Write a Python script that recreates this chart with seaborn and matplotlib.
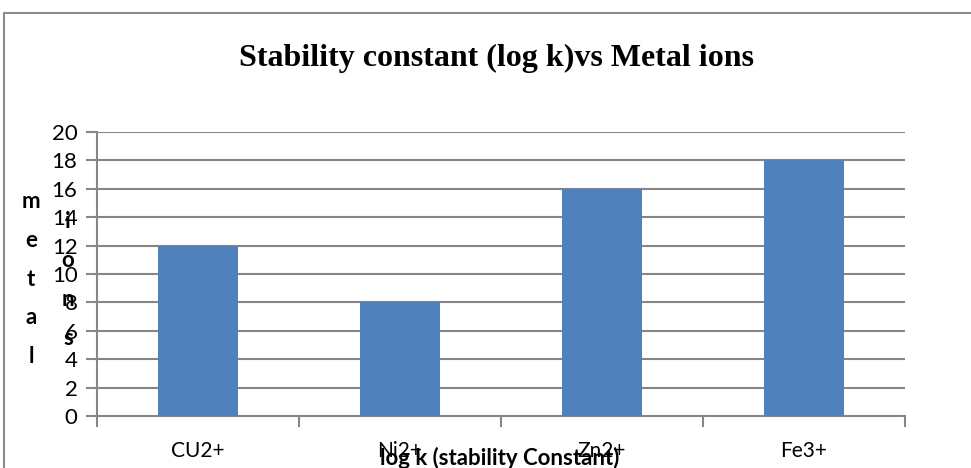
import matplotlib
matplotlib.use("Agg")
import matplotlib.pyplot as plt
import seaborn as sns
import pandas as pd
from matplotlib.lines import Line2D
from matplotlib.ticker import FixedLocator

# Metal ions and their stability constants (log k)
metals = ["CU2+", "Ni2+", "Zn2+", "Fe3+"]
log_k = [12, 8, 16, 18]
y_ticks = [0, 2, 4, 6, 8, 10, 12, 14, 16, 18, 20]

title = "Stability constant (log k)vs Metal ions"
x_title = "log k (stability Constant)"

sns.set_theme(style="white")
plt.rcParams["font.family"] = ["Lato", "DejaVu Sans"]

W, H = 971, 468
fig = plt.figure(figsize=(W / 100, H / 100), dpi=100)
ax = fig.add_axes([97 / W, 1 - 416 / H, (905 - 97) / W, (416 - 132) / H])

df = pd.DataFrame({"metal": metals, "logk": log_k})
sns.barplot(data=df, x="metal", y="logk", color="#4f81bd", saturation=1,
            width=0.4, linewidth=0, ax=ax, zorder=3)

ax.set_xlim(-0.5, len(metals) - 0.5)
ax.set_ylim(0, 20)
ax.set_yticks(y_ticks)
ax.set_yticklabels([str(v) for v in y_ticks], fontsize=16, color="black")
ax.set_xticklabels(metals, fontsize=15, color="black")

grid_c = "#868686"
for v in y_ticks[1:]:
    ax.axhline(v, color=grid_c, lw=1.5, zorder=1)

for side in ["top", "right"]:
    ax.spines[side].set_visible(False)
for side in ["left", "bottom"]:
    ax.spines[side].set_color(grid_c)
    ax.spines[side].set_linewidth(1.5)

ax.tick_params(axis="y", which="major", length=8, width=1.5, color=grid_c,
               direction="out", left=True, pad=6)
ax.tick_params(axis="x", which="major", length=0, pad=18)
ax.xaxis.set_minor_locator(FixedLocator([-0.5, 0.5, 1.5, 2.5, 3.5]))
ax.tick_params(axis="x", which="minor", length=8, width=1.5, color=grid_c,
               direction="out", bottom=True)

ax.set_xlabel("")
ax.set_ylabel("")

# Axis titles
fig.text(500 / W, 1 - 458 / H, x_title, ha="center", va="center",
         fontsize=16, fontweight="bold", color="black")
fig.text(31 / W, 1 - 279 / H, "m\ne\nt\na\nl", ha="center", va="center",
         fontsize=16, fontweight="bold", linespacing=2.05, color="black")
fig.text(68 / W, 1 - 280 / H, "i\no\nn\ns", ha="center", va="center",
         fontsize=16, fontweight="bold", linespacing=2.05, color="black")

# Chart title
fig.text(496 / W, 1 - 58 / H, title, ha="center", va="center",
         fontsize=23, fontweight="bold", family="Liberation Serif", color="black")

# Chart frame
frame_c = "#8c8c8c"
fig.add_artist(Line2D([4 / W, 4 / W], [0, 1 - 13 / H], transform=fig.transFigure,
                      color=frame_c, lw=1.5))
fig.add_artist(Line2D([4 / W, 1], [1 - 13 / H, 1 - 13 / H], transform=fig.transFigure,
                      color=frame_c, lw=1.5))

fig.savefig("out.png", dpi=100)
